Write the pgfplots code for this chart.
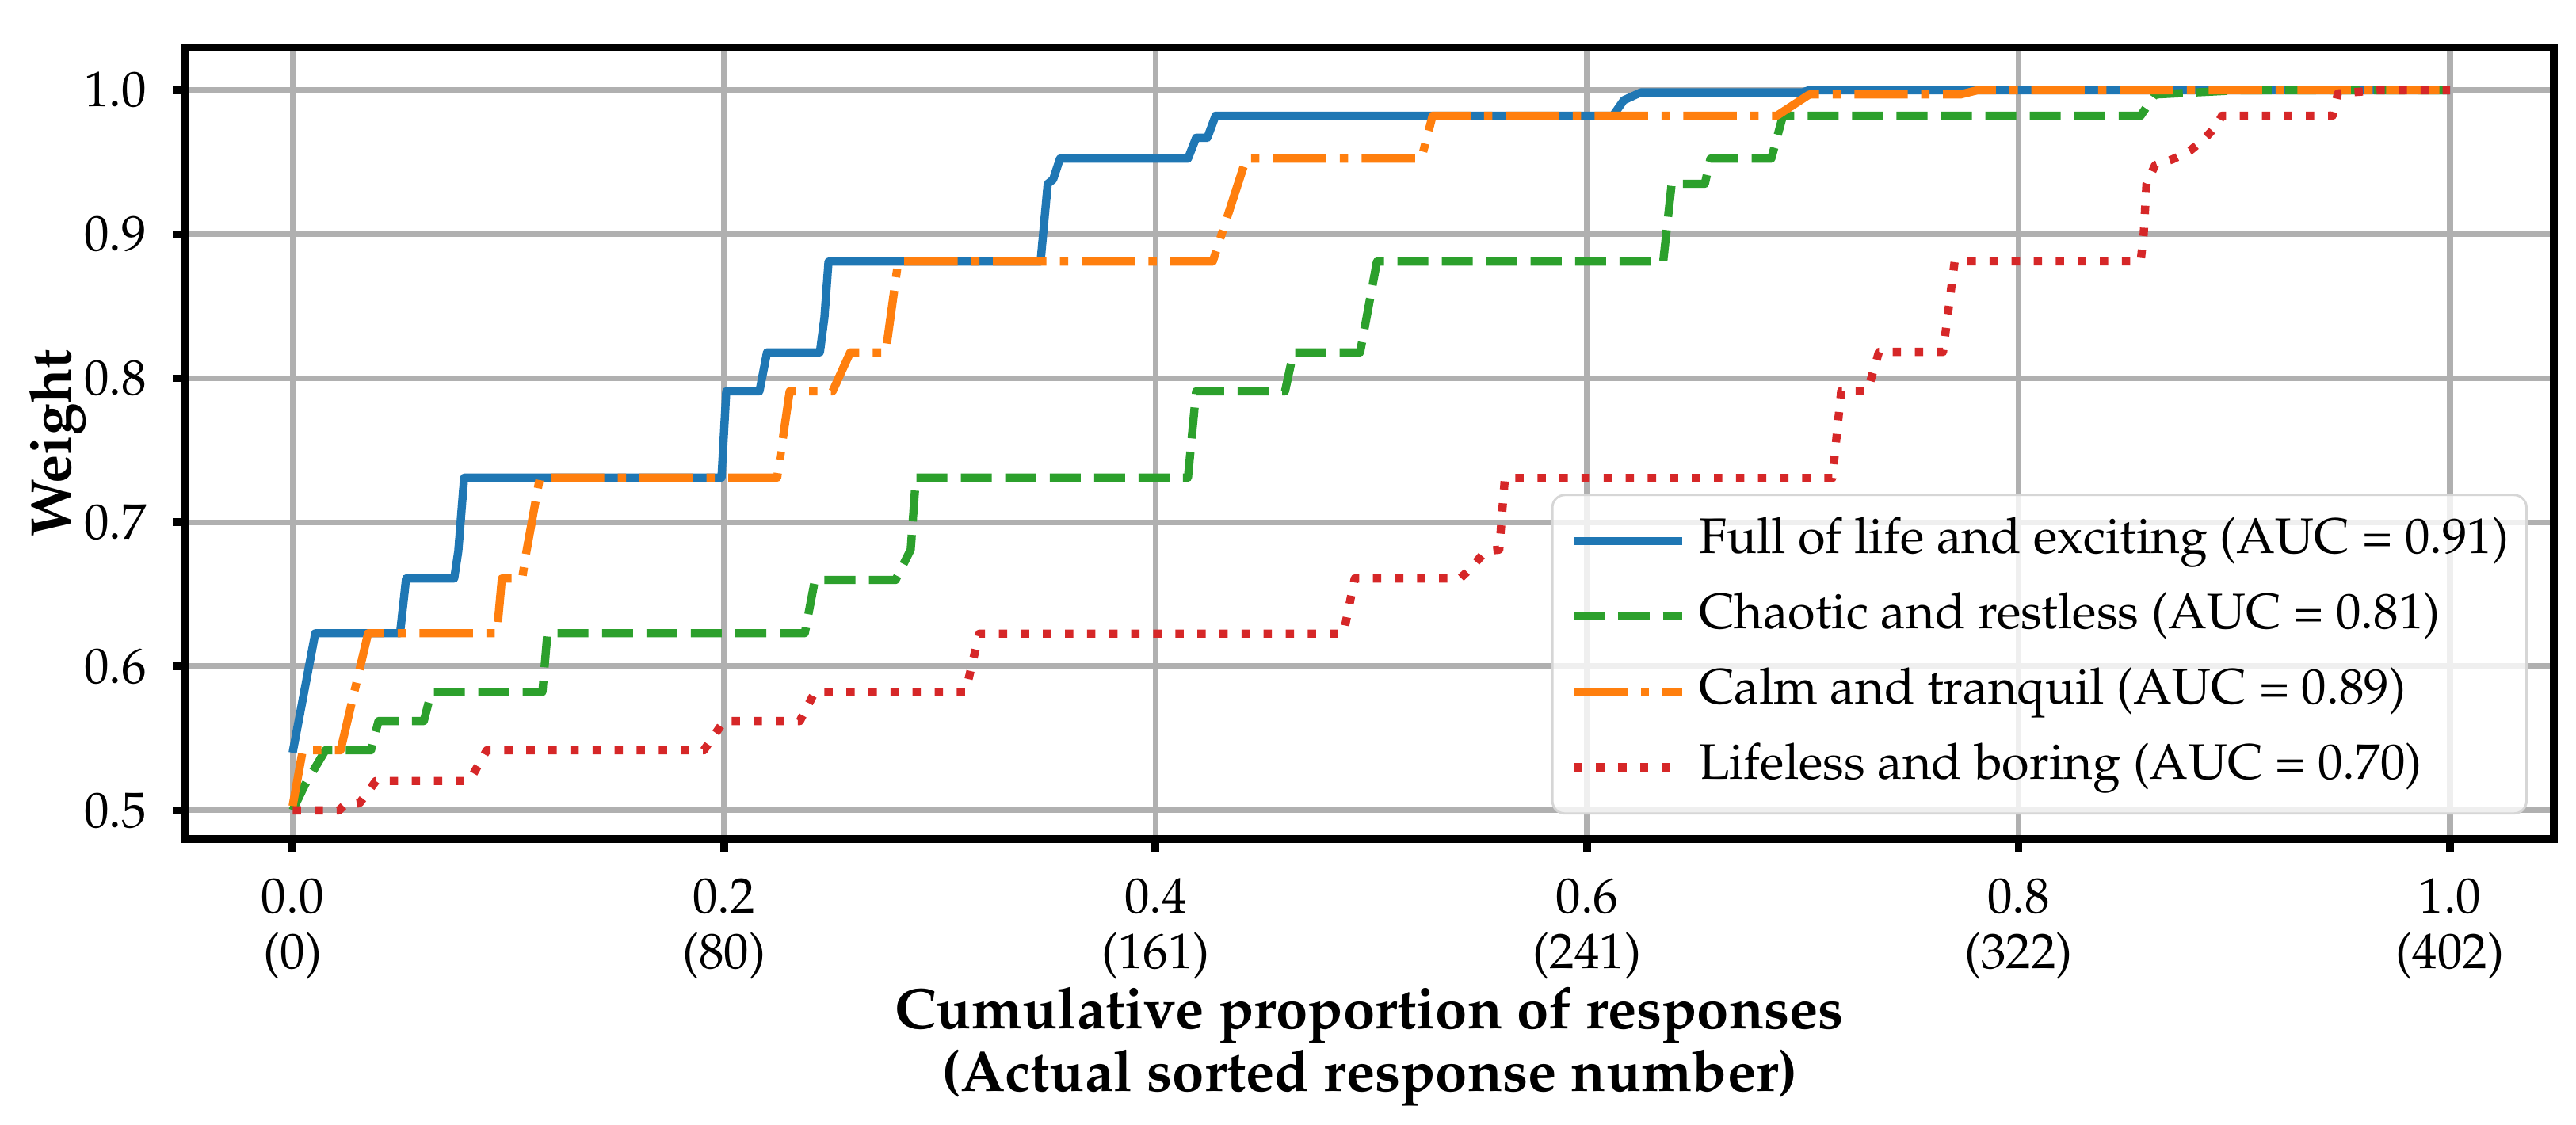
\documentclass[border=0pt]{standalone}
\usepackage[T1]{fontenc}
\usepackage{mathpazo}
\usepackage{pgfplots}
\pgfplotsset{compat=1.18}
\definecolor{cblue}{HTML}{1F77B4}
\definecolor{corange}{HTML}{FF7F0E}
\definecolor{cgreen}{HTML}{2CA02C}
\definecolor{cred}{HTML}{D62728}
\definecolor{gridgray}{HTML}{B0B0B0}
\definecolor{legendgray}{HTML}{D6D6D6}
\begin{document}
\begin{tikzpicture}
\path[use as bounding box] (-37.14pt,-57.14pt) rectangle (478.9pt,168.1pt);
\begin{axis}[
  at={(0,0)}, anchor=south west,
  scale only axis, width=474.4pt, height=158.6pt,
  xmin=-0.0497, xmax=1.048, ymin=0.4801, ymax=1.0297,
  xtick={0,0.2,0.4,0.6,0.8,1.0},
  xticklabels={{0.0\\(0)},{0.2\\(80)},{0.4\\(161)},{0.6\\(241)},{0.8\\(322)},{1.0\\(402)}},
  ytick={0.5,0.6,0.7,0.8,0.9,1.0},
  yticklabels={0.5,0.6,0.7,0.8,0.9,1.0},
  xtick pos=bottom, ytick pos=left,
  tick align=outside, major tick length=2.5pt,
  tick style={line width=1.55pt, black},
  axis line style={line width=1.55pt},
  grid=major,
  major grid style={color=gridgray, line width=1.15pt},
  xticklabel style={font=\fontsize{10}{11}\selectfont, align=center, anchor=north, inner sep=0pt, yshift=-5.24pt},
  yticklabel style={font=\fontsize{10}{11}\selectfont, anchor=east, inner sep=0pt, xshift=-5.1pt},
  xlabel={Cumulative proportion of responses\\(Actual sorted response number)},
  xlabel style={align=center, font=\bfseries\fontsize{11.5}{12.5}\selectfont, at={(axis description cs:0.5,-0.186)}, anchor=north, inner sep=0pt},
  ylabel={Weight},
  ylabel style={font=\bfseries\fontsize{11.5}{12.5}\selectfont, at={(axis description cs:-0.05396,0.5)}, anchor=center, inner sep=0pt},
  legend cell align=left,
  legend image code/.code={\path[draw=none,fill=none] (0pt,-3.93pt) rectangle (0.1pt,-3.93pt); \draw[#1] (0pt,0pt) -- (21.7pt,0pt);},
  legend style={at={(1,0)}, anchor=south east, xshift=-5.2pt, yshift=4.9pt,
    draw=legendgray, line width=0.45pt, rounded corners=2.5pt,
    fill=white, fill opacity=0.8, text opacity=1,
    font=\fontsize{10}{12}\selectfont,
    inner xsep=3.5pt, inner ysep=4.4pt, row sep=5.4pt,
    nodes={inner sep=0pt, text height=7.3pt, text depth=2.4pt},
    /tikz/every odd column/.append style={column sep=2.5pt}},
  every axis plot/.append style={line width=1.65pt, line join=round},
]
\addplot[cblue, solid] coordinates {
(0,0.540) (0.0105,0.623) (0.0498,0.623) (0.0526,0.661) (0.0749,0.661) (0.0768,0.680) (0.0795,0.731)
(0.1988,0.731) (0.2010,0.791) (0.2164,0.791) (0.2199,0.818) (0.2444,0.818) (0.2465,0.842) (0.2484,0.881)
(0.3467,0.881) (0.3500,0.935) (0.3525,0.938) (0.3557,0.9525) (0.4150,0.9525) (0.4188,0.967) (0.4240,0.967)
(0.4278,0.9823) (0.6120,0.9823) (0.6170,0.993) (0.6250,0.9985) (0.7000,0.9985) (0.7030,1.0) (1.0,1.0)};
\addlegendentry{Full of life and exciting (AUC = 0.91)}
\addplot[cgreen, dash pattern=on 6.2pt off 2.7pt] coordinates {
(0,0.500) (0.0058,0.518) (0.0152,0.5417) (0.0363,0.5417) (0.0398,0.562) (0.0608,0.562) (0.0643,0.5822)
(0.1158,0.5822) (0.1181,0.623) (0.2374,0.623) (0.2421,0.660) (0.2795,0.660) (0.2865,0.681) (0.2889,0.731)
(0.4150,0.731) (0.4188,0.791) (0.4600,0.791) (0.4639,0.818) (0.4948,0.818) (0.5026,0.881) (0.6353,0.881)
(0.6392,0.935) (0.6546,0.935) (0.6572,0.9525) (0.6854,0.9525) (0.6908,0.9823) (0.8566,0.9823) (0.8633,0.997)
(0.9024,1.0) (1.0,1.0)};
\addlegendentry{Chaotic and restless (AUC = 0.81)}
\addplot[corange, dash pattern=on 10.7pt off 2.7pt on 1.67pt off 2.7pt] coordinates {
(0,0.503) (0.0047,0.5417) (0.0222,0.5417) (0.0350,0.623) (0.0947,0.623) (0.0970,0.661) (0.1064,0.661)
(0.1083,0.679) (0.1146,0.731) (0.2246,0.731) (0.2304,0.791) (0.2503,0.791) (0.2585,0.818) (0.2749,0.818)
(0.2807,0.881) (0.4265,0.881) (0.4420,0.9525) (0.5232,0.9525) (0.5284,0.9823) (0.6880,0.9823) (0.7030,0.997)
(0.7730,0.997) (0.7810,1.0) (1.0,1.0)};
\addlegendentry{Calm and tranquil (AUC = 0.89)}
\addplot[cred, dash pattern=on 1.67pt off 2.75pt] coordinates {
(0,0.500) (0.0215,0.500) (0.0235,0.503) (0.0310,0.505) (0.0345,0.512) (0.0386,0.5204) (0.0819,0.5204)
(0.0900,0.5417) (0.1906,0.5417) (0.2000,0.562) (0.2351,0.562) (0.2421,0.5822) (0.3119,0.5822) (0.3183,0.6227)
(0.4871,0.6227) (0.4923,0.661) (0.5412,0.661) (0.5460,0.668) (0.5530,0.680) (0.5593,0.681) (0.5619,0.7307)
(0.7137,0.7307) (0.7178,0.7913) (0.7300,0.7913) (0.7353,0.8183) (0.7650,0.8183) (0.7704,0.8812) (0.8566,0.8812)
(0.8580,0.900) (0.8593,0.935) (0.8633,0.948) (0.8714,0.952) (0.8795,0.958) (0.8860,0.966) (0.8916,0.975)
(0.8943,0.9823) (0.9456,0.9823) (0.9480,0.9977) (0.9670,1.0) (1.0,1.0)};
\addlegendentry{Lifeless and boring (AUC = 0.70)}
\end{axis}
\end{tikzpicture}
\end{document}
